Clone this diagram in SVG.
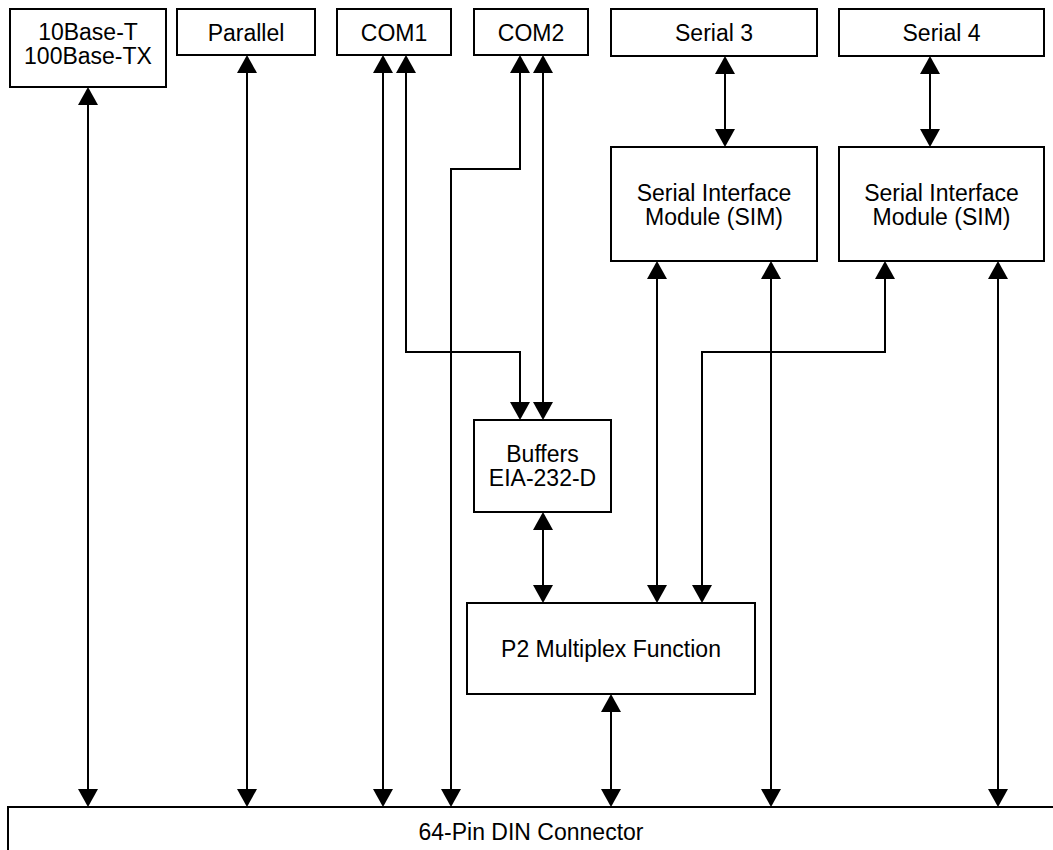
<svg xmlns="http://www.w3.org/2000/svg" width="1053" height="850" viewBox="0 0 1053 850">
<style>
.box{fill:#fff;stroke:#000;stroke-width:2}
.t{font-family:"Liberation Sans",Arial,sans-serif;font-size:23px;fill:#000;text-anchor:middle}
.c{fill:none;stroke:#000;stroke-width:2;marker-start:url(#ah);marker-end:url(#ah)}
</style>
<defs>
<marker id="ah" markerUnits="userSpaceOnUse" markerWidth="18" markerHeight="20" viewBox="0 0 18 20" refX="0" refY="10" orient="auto-start-reverse">
<path d="M0,0 L18,10 L0,20 z" fill="#000"/>
</marker>
</defs>
<rect width="1053" height="850" fill="#fff"/>
<g id="connectors">
<path class="c" d="M88,105 V789"/>
<path class="c" d="M247,73 V789"/>
<path class="c" d="M383,73 V789"/>
<path class="c" d="M406,73 V352 H520 V402"/>
<path class="c" d="M520,73 V169 H451 V789"/>
<path class="c" d="M543,73 V402"/>
<path class="c" d="M543,530 V585"/>
<path class="c" d="M725,74 V129"/>
<path class="c" d="M930,74 V129"/>
<path class="c" d="M657,279 V585"/>
<path class="c" d="M771,279 V789"/>
<path class="c" d="M885,279 V352 H702 V585"/>
<path class="c" d="M998,279 V789"/>
<path class="c" d="M611,712 V789"/>
</g>
<g id="n-10base">
<rect class="box" x="10" y="9" width="156" height="78"/>
<text class="t" x="88" y="40">10Base-T</text>
<text class="t" x="88" y="64">100Base-TX</text>
</g>
<g id="n-parallel">
<rect class="box" x="177" y="9" width="138" height="46"/>
<text class="t" x="246" y="41">Parallel</text>
</g>
<g id="n-com1">
<rect class="box" x="337" y="9" width="114" height="46"/>
<text class="t" x="394" y="41">COM1</text>
</g>
<g id="n-com2">
<rect class="box" x="474" y="9" width="114" height="46"/>
<text class="t" x="531" y="41">COM2</text>
</g>
<g id="n-serial3">
<rect class="box" x="611" y="9" width="206" height="47"/>
<text class="t" x="714" y="41">Serial 3</text>
</g>
<g id="n-serial4">
<rect class="box" x="839" y="9" width="205" height="47"/>
<text class="t" x="941.5" y="41">Serial 4</text>
</g>
<g id="n-sim1">
<rect class="box" x="611" y="147" width="206" height="114"/>
<text class="t" x="714" y="201">Serial Interface</text>
<text class="t" x="714" y="225">Module (SIM)</text>
</g>
<g id="n-sim2">
<rect class="box" x="839" y="147" width="205" height="114"/>
<text class="t" x="941.5" y="201">Serial Interface</text>
<text class="t" x="941.5" y="225">Module (SIM)</text>
</g>
<g id="n-buffers">
<rect class="box" x="474" y="420" width="137" height="92"/>
<text class="t" x="542.5" y="462">Buffers</text>
<text class="t" x="542.5" y="486">EIA-232-D</text>
</g>
<g id="n-p2">
<rect class="box" x="467" y="603" width="288" height="91"/>
<text class="t" x="611" y="657">P2 Multiplex Function</text>
</g>
<g id="n-din">
<rect class="box" x="8" y="807" width="1100" height="100"/>
<text class="t" x="531" y="840">64-Pin DIN Connector</text>
</g>
</svg>
